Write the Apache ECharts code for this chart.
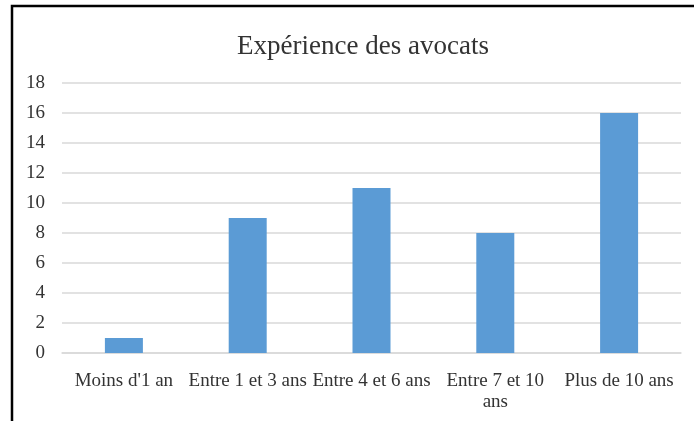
<!DOCTYPE html>
<html>
<head>
<meta charset="utf-8">
<script src="https://cdn.jsdelivr.net/npm/echarts@6/dist/echarts.min.js"></script>
<style>
html,body{margin:0;padding:0;background:#fff;}
#chart{width:694px;height:421px;}
</style>
</head>
<body>
<div id="chart"></div>
<script>
const categories = ["Moins d'1 an", "Entre 1 et 3 ans", "Entre 4 et 6 ans", "Entre 7 et 10 ans", "Plus de 10 ans"];
const tickLabels = ["Moins d'1 an", "Entre 1 et 3 ans", "Entre 4 et 6 ans", "Entre 7 et 10\nans", "Plus de 10 ans"];
const values = [1, 9, 11, 8, 16];
const titleText = "Expérience des avocats";

const chart = echarts.init(document.getElementById('chart'), null, {renderer: 'canvas'});
const font = '"Liberation Serif", "Times New Roman", serif';
chart.setOption({
  animation: false,
  backgroundColor: '#fff',
  title: {
    text: titleText,
    left: 358, top: 28,
    textAlign: 'center',
    textStyle: {fontFamily: font, fontSize: 27, fontWeight: 'normal', color: '#333'}
  },
  graphic: [{
    type: 'polyline',
    shape: {points: [[12, 421], [12, 6], [694, 6]]},
    style: {stroke: '#000', lineWidth: 2.5, fill: null}
  }],
  grid: {left: 62, right: 13, top: 83, bottom: 68, containLabel: false},
  xAxis: {
    type: 'category',
    data: categories,
    axisLine: {show: true, lineStyle: {color: '#d9d9d9', width: 1.5}},
    axisTick: {show: false},
    axisLabel: {
      interval: 0, margin: 18, lineHeight: 21,
      fontFamily: font, fontSize: 19, color: '#333',
      formatter: function (v, i) { return tickLabels[i]; }
    }
  },
  yAxis: {
    type: 'value', min: 0, max: 18, interval: 2,
    axisLine: {show: false}, axisTick: {show: false},
    splitLine: {lineStyle: {color: '#d9d9d9', width: 1.5}},
    axisLabel: {margin: 17, fontFamily: font, fontSize: 19, color: '#333'}
  },
  series: [{
    type: 'bar',
    data: values,
    barWidth: 38,
    itemStyle: {color: '#5b9bd5'}
  }]
});
</script>
</body>
</html>
